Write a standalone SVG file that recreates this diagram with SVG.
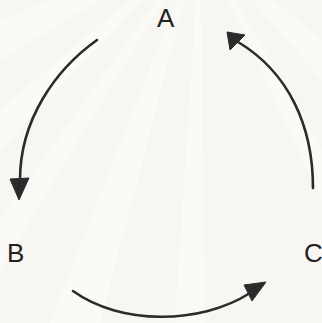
<svg xmlns="http://www.w3.org/2000/svg" width="322" height="323" viewBox="0 0 322 323">
  <style>
    .lbl { font-family: "Liberation Sans", Arial, sans-serif; font-size: 26px; fill: #222; }
    .arc { fill: none; stroke: #2b2b2b; stroke-width: 2.6; stroke-linecap: round; }
    .head { fill: #2b2b2b; stroke: #2b2b2b; stroke-width: 1; stroke-linejoin: round; }
    .ray { fill: #fdfdfb; opacity: 0.6; }
  </style>
  <g id="background">
    <rect x="0" y="0" width="322" height="323" fill="#f7f6f1"/>
    <polygon class="ray" points="200,-60 0,20 0,60"/>
    <polygon class="ray" points="200,-60 0,110 0,150"/>
    <polygon class="ray" points="200,-60 0,220 0,270"/>
    <polygon class="ray" points="200,-60 50,323 100,323"/>
    <polygon class="ray" points="200,-60 175,323 205,323"/>
    <polygon class="ray" points="200,-60 322,40 322,80"/>
    <polygon class="ray" points="200,-60 322,150 322,200"/>
  </g>
  <g id="node-A"><text class="lbl" x="157" y="27">A</text></g>
  <g id="node-B"><text class="lbl" x="7" y="262">B</text></g>
  <g id="node-C"><text class="lbl" x="304" y="262">C</text></g>
  <g id="connectors">
    <path class="arc" d="M97,40 C55,70 20,120 20,180"/>
    <polygon class="head" points="19,200 10,179 29,178"/>
    <path class="arc" d="M73,291 C120,325 200,325 250,293"/>
    <polygon class="head" points="266,282 244,285 252,301"/>
    <path class="arc" d="M313,188 C313,125 288,72 238,42"/>
    <polygon class="head" points="227,32 245,35 230,50"/>
  </g>
</svg>
